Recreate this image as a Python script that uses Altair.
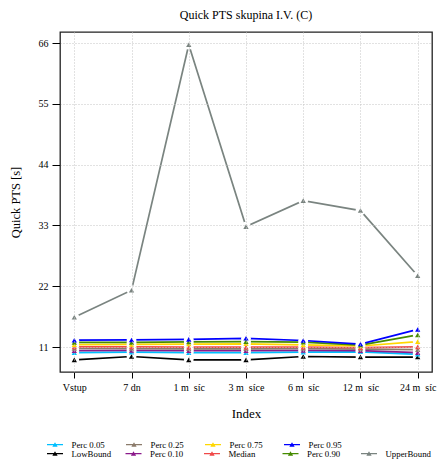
import altair as alt
import pandas as pd

# ---- data ----
index_labels = ["Vstup", "7 dn", "1 m\u00a0\u00a0síc", "3 m\u00a0\u00a0síce",
                "6 m\u00a0\u00a0síc", "12 m\u00a0\u00a0síc", "24 m\u00a0\u00a0síc"]

low_bound = [8.7, 9.3, 8.7, 8.7, 9.3, 9.2, 9.2]
perc_005 = [10.0, 10.1, 10.0, 10.0, 10.1, 10.15, 9.7]
perc_010 = [10.35, 10.4, 10.35, 10.35, 10.4, 10.35, 10.0]
perc_025 = [10.75, 10.75, 10.7, 10.7, 10.75, 10.65, 10.55]
median = [11.05, 11.05, 11.0, 11.0, 11.0, 10.9, 11.05]
perc_075 = [11.45, 11.5, 11.55, 11.6, 11.4, 11.2, 12.0]
perc_090 = [11.85, 11.85, 11.95, 12.0, 11.9, 11.35, 13.2]
perc_095 = [12.25, 12.3, 12.4, 12.6, 12.2, 11.55, 14.2]
upper_bound = [16.4, 21.3, 65.7, 32.8, 37.5, 35.7, 23.9]

series = {
    "UpperBound": upper_bound,
    "LowBound": low_bound,
    "Perc 0.05": perc_005,
    "Perc 0.10": perc_010,
    "Perc 0.25": perc_025,
    "Median": median,
    "Perc 0.75": perc_075,
    "Perc 0.90": perc_090,
    "Perc 0.95": perc_095,
}

series_color = {
    "Perc 0.05": "#00BFFF",
    "Perc 0.25": "#8B7B6B",
    "Perc 0.75": "#FFD700",
    "Perc 0.95": "#0000FF",
    "LowBound": "#000000",
    "Perc 0.10": "#8B1A8B",
    "Median": "#F04848",
    "Perc 0.90": "#458B00",
    "UpperBound": "#7A8480",
}
legend_row1 = ["Perc 0.05", "Perc 0.25", "Perc 0.75", "Perc 0.95"]
legend_row2 = ["LowBound", "Perc 0.10", "Median", "Perc 0.90", "UpperBound"]

y_ticks = [11, 22, 33, 44, 55, 66]

rows = []
for name, vals in series.items():
    for i, (lab, v) in enumerate(zip(index_labels, vals)):
        rows.append({"Index": lab, "idx": i, "Series": name, "Value": v})
df = pd.DataFrame(rows)

FONT = "Liberation Serif"

x_enc = alt.X(
    "Index:N",
    sort=index_labels,
    scale=alt.Scale(type="point", padding=0.25),
    axis=alt.Axis(
        title="Index", labelAngle=0, tickSize=6, labelPadding=4, domain=False,
        grid=True, gridDash=[1, 2], gridColor="#c4c4c4", gridWidth=1,
        labelFont=FONT, labelFontSize=10, labelColor="black", tickColor="black",
        titleFont=FONT, titleFontSize=13, titleFontWeight="normal", titleColor="black",
        titleY=41, titleBaseline="middle", zindex=1,
    ),
)
y_enc = alt.Y(
    "Value:Q",
    scale=alt.Scale(domain=[6.5, 68], nice=False, zero=False),
    axis=alt.Axis(
        title="Quick PTS [s]", values=y_ticks, tickSize=8, labelPadding=4, domain=False,
        grid=True, gridDash=[1, 2], gridColor="#c4c4c4", gridWidth=1,
        labelFont=FONT, labelFontSize=10, labelColor="black", tickColor="black",
        titleFont=FONT, titleFontSize=12.5, titleFontWeight="normal", titleColor="black",
        titleX=-45, titleY=170, titleAlign="center", titleBaseline="middle", zindex=1,
    ),
)

full_order = legend_row1 + legend_row2
color_scale = alt.Scale(domain=full_order, range=[series_color[s] for s in full_order])
# second scale (legend row 2 only) for the fill channel of an invisible layer
fill_order = legend_row2 + legend_row1
fill_scale = alt.Scale(domain=fill_order, range=[series_color[s] for s in fill_order])

SYMBOL = "M-1,-0.09H1V0.09H-1Z M-0.33,0.28L0,-0.3L0.33,0.28Z"


def make_legend(values, ly, cols, colpad):
    return alt.Legend(
        title=None, orient="none", legendX=-13, legendY=ly, values=values,
        direction="horizontal", columns=cols, gridAlign="all",
        symbolType=SYMBOL, symbolSize=256, symbolStrokeWidth=0, symbolOpacity=1,
        labelFont=FONT, labelFontSize=8.8, labelColor="black", labelOffset=8.5,
        columnPadding=colpad, rowPadding=0, padding=0,
    )


legend1 = make_legend(legend_row1, 404.5, 4, 21)
legend2 = make_legend(legend_row2, 413.5, 5, 8.5)

# invisible layers that carry the two legend rows (filled symbols)
legend_layer2 = alt.Chart(df).mark_point(shape="triangle-up", filled=True, size=28, opacity=0).encode(
    x=x_enc, y=y_enc,
    fill=alt.Fill("Series:N", scale=fill_scale, legend=legend2),
)
legend_layer1 = alt.Chart(df).mark_point(shape="triangle-up", filled=True, size=28, opacity=0).encode(
    x=alt.X("Index:N", sort=index_labels),
    y="Value:Q",
    color=alt.Color("Series:N", scale=color_scale, legend=legend1),
)

lines = alt.Chart(df).mark_line(strokeWidth=1.7).encode(
    x=alt.X("Index:N", sort=index_labels),
    y="Value:Q",
    color=alt.Color("Series:N", scale=color_scale, legend=legend1),
    order=alt.Order("idx:Q"),
)

gaps = alt.Chart(df).mark_point(shape="circle", filled=True, size=95, opacity=1).encode(
    x=alt.X("Index:N", sort=index_labels),
    y="Value:Q",
    color=alt.value("white"),
)

points = alt.Chart(df).mark_point(shape="triangle-up", filled=True, size=28, opacity=1).encode(
    x=alt.X("Index:N", sort=index_labels),
    y="Value:Q",
    color=alt.Color("Series:N", scale=color_scale, legend=legend1),
)

chart = alt.layer(legend_layer2, legend_layer1, lines, gaps, points).properties(
    width=372,
    height=340,
    title=alt.TitleParams(
        "Quick PTS skupina I.V. (C)", font=FONT, fontSize=12, fontWeight="normal",
        anchor="middle", offset=10.5, color="black",
    ),
    padding={"left": 52, "top": 24, "right": 5, "bottom": 90},
    autosize=alt.AutoSizeParams(type="none"),
).configure_view(stroke="#222222", strokeWidth=1.3)

chart.save("out.html", embed_options={"renderer": "svg", "actions": False})
